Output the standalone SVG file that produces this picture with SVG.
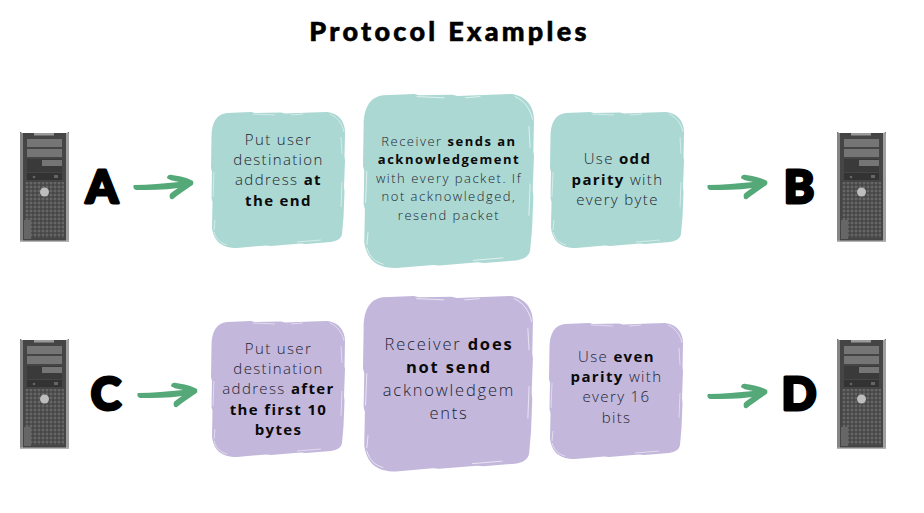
<svg xmlns="http://www.w3.org/2000/svg" width="924" height="513" viewBox="0 0 924 513">
<style>
.t{font-family:"Open Sans","Liberation Sans",sans-serif;font-weight:300;fill:#1c2430;text-anchor:middle;letter-spacing:1.35px}
.t b,.b{font-weight:700;fill:#0a0a0a}
.s{font-size:15px}.m{font-size:13px}.l{font-size:16.5px;letter-spacing:1.8px}
.big{font-family:Lato,"Liberation Sans",sans-serif;font-weight:900;font-size:46px;fill:#000;stroke:#000;stroke-width:3;stroke-linejoin:round;text-anchor:middle}
.title{font-family:Lato,"Liberation Sans",sans-serif;font-weight:900;font-size:27px;letter-spacing:3.3px;fill:#000;stroke:#000;stroke-width:.6;text-anchor:middle}
.ar{fill:#55a878}
.sc{fill:none;stroke:#fff;stroke-width:.7;opacity:.7}
.teal{fill:#abd8d3}.pur{fill:#c3b7dc}
</style>
<defs>
<pattern id="grill" width="4" height="4" patternUnits="userSpaceOnUse"><rect width="4" height="4" fill="#666"/><path d="M0 1H4M1 0V4" stroke="#3c3c3c" stroke-width="1"/></pattern>
<g id="blob">
<path d="M16 1L40 0L44 1L70 0.500L74 1.500L100 0.500L116 0C127 1 134 9 134 20L133.500 45L134 48L133 75L133.500 80L132.500 105L131 122C130 127 126 129 120 130L95 132L90 131.500L60 134L55 133.500L26 136C10 136 3 129 1 116L1.500 90L0.500 86L1 60L0 56L0.500 25C0.500 10 6 2 16 1Z"/>
<path class="sc" d="M119 2C126 5 131 11 133 20M130 25L131 42M131 70L130 95M3 60L2 85M4 108L3 118M42 2L64 3M86 130L110 128M3 120C5 127 9 131 16 133M80 3L92 2"/>
</g>
<g id="pc">
<path d="M0 0L2 1H47L49 0V110H0Z" fill="#454545"/>
<rect x="0" y="1" width="3" height="109" fill="#858585"/><rect x="46" y="1" width="3" height="109" fill="#a0a0a0"/>
<rect x="14" y="1" width="20" height="2.500" fill="#9a9a9a"/>
<rect x="7" y="7" width="35" height="8" fill="#757575"/><rect x="7" y="17" width="35" height="8" fill="#757575"/>
<rect x="7" y="27" width="35" height="13" fill="#3a3a3a"/><rect x="22" y="28" width="20" height="6" fill="#757575"/>
<rect x="7" y="41" width="35" height="7" fill="#333"/><rect x="34" y="43" width="4" height="3" fill="#666"/><circle cx="14" cy="45" r="1.300" fill="#666"/>
<rect x="5" y="50" width="39" height="56" fill="url(#grill)"/>
<rect x="4" y="88" width="7" height="19" fill="#666"/>
<circle cx="24.500" cy="60" r="4.500" fill="#bdbdbd"/>
<rect x="0" y="108.500" width="49" height="1.500" fill="#b5b5b5"/>
</g>
<path id="arrow" d="M0 10C15 10 30 8 45 7C40 6 35 5 33 3C33 0 36-1 38 0C46 1 54 3 59 6C60 9 59 10 57 11C51 15 44 20 39 24C36 25 35 22 36 19C38 17 41 15 44 13C30 15 15 15 2 15C-1 14-1 11 0 10Z"/>
</defs>
<rect width="924" height="513" fill="#fff"/>
<text class="title" x="449.500" y="41">Protocol Examples</text>
<g id="pc-a"><use href="#pc" x="20" y="132"/></g>
<g id="pc-b"><use href="#pc" x="837" y="132"/></g>
<g id="pc-c"><use href="#pc" x="20" y="339"/></g>
<g id="pc-d"><use href="#pc" x="837" y="339"/></g>
<g id="node-a"><text class="big" x="102" y="203">A</text></g>
<g id="node-b"><text class="big" x="799" y="203">B</text></g>
<g id="node-c"><text class="big" x="106" y="410">C</text></g>
<g id="node-d"><text class="big" x="799" y="410">D</text></g>
<g id="connectors" class="ar">
<use href="#arrow" x="134" y="175"/>
<use href="#arrow" x="708" y="175"/>
<use href="#arrow" x="138" y="383"/>
<use href="#arrow" x="708" y="384"/>
</g>
<g id="box-1" class="teal"><use href="#blob" transform="translate(211 112)"/>
<text class="t s"><tspan x="278.500" y="145">Put user</tspan><tspan x="278.500" y="165">destination</tspan><tspan x="278.500" y="185">address <tspan class="b">at</tspan></tspan><tspan class="b" x="278.500" y="206">the end</tspan></text></g>
<g id="box-2" class="teal"><use href="#blob" transform="translate(363 94) scale(1.276 1.28)"/>
<text class="t m" style="letter-spacing:1.5px"><tspan x="449" y="146">Receiver <tspan class="b">sends an</tspan></tspan><tspan class="b" x="449" y="164">acknowledgement</tspan><tspan x="449" y="183">with every packet. If</tspan><tspan x="449" y="201">not acknowledged,</tspan><tspan x="449" y="220">resend packet</tspan></text></g>
<g id="box-3" class="teal"><use href="#blob" transform="translate(550 112)"/>
<text class="t s"><tspan x="617.500" y="164">Use <tspan class="b">odd</tspan></tspan><tspan x="617.500" y="185"><tspan class="b">parity</tspan> with</tspan><tspan x="617.500" y="205">every byte</tspan></text></g>
<g id="box-4" class="pur"><use href="#blob" transform="translate(211 321)"/>
<text class="t s"><tspan x="278.500" y="354">Put user</tspan><tspan x="278.500" y="374">destination</tspan><tspan x="278.500" y="394">address <tspan class="b">after</tspan></tspan><tspan class="b" x="278.500" y="415">the first 10</tspan><tspan class="b" x="278.500" y="435">bytes</tspan></text></g>
<g id="box-5" class="pur"><use href="#blob" transform="translate(363 296) scale(1.268 1.29)"/>
<text class="t l"><tspan x="449" y="350">Receiver <tspan class="b">does</tspan></tspan><tspan class="b" x="449" y="373">not send</tspan><tspan x="449" y="396">acknowledgem</tspan><tspan x="449" y="419">ents</tspan></text></g>
<g id="box-6" class="pur"><use href="#blob" transform="translate(549 323)"/>
<text class="t s"><tspan x="616.500" y="362">Use <tspan class="b">even</tspan></tspan><tspan x="616.500" y="382"><tspan class="b">parity</tspan> with</tspan><tspan x="616.500" y="402">every 16</tspan><tspan x="616.500" y="423">bits</tspan></text></g>
</svg>
